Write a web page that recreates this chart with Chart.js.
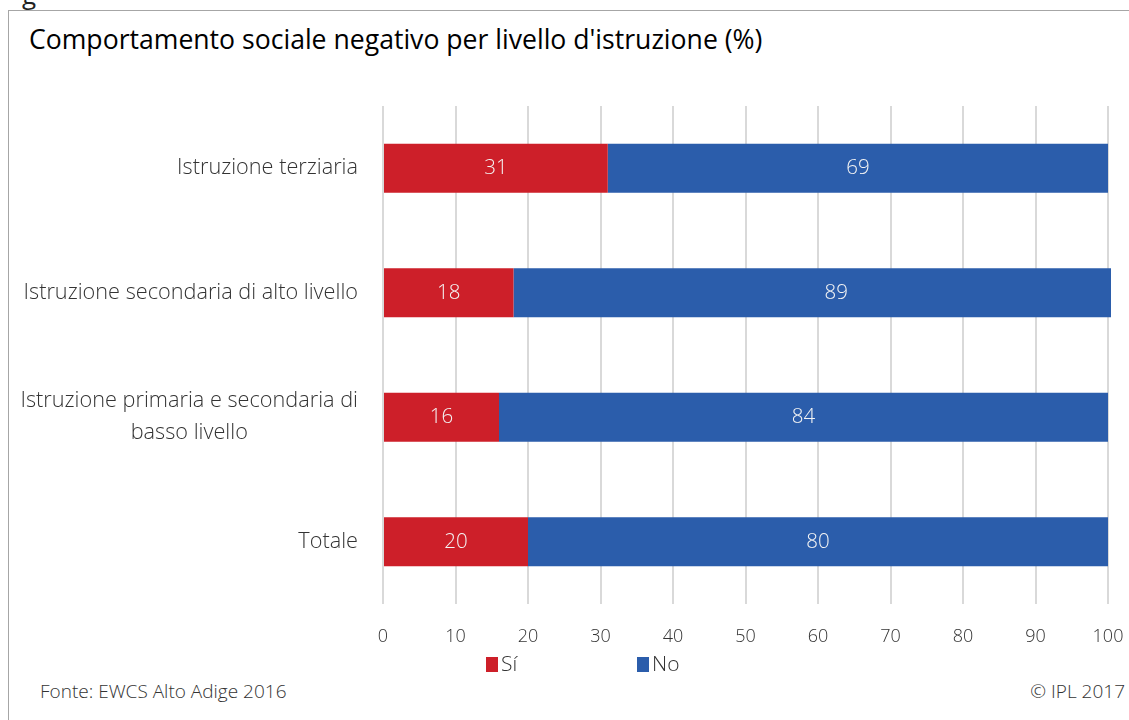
<!DOCTYPE html>
<html>
<head>
<meta charset="utf-8">
<script src="https://cdn.jsdelivr.net/npm/chart.js@4"></script>
<style>
  body { margin: 0; background: #fff; font-family: 'Open Sans', sans-serif; }
  #wrap { position: relative; width: 1129px; height: 720px; overflow: hidden; }
  #frame { position: absolute; left: 8px; top: 10px; width: 1200px; height: 800px;
           border-left: 1px solid #a6a6a6; border-top: 1px solid #a6a6a6; }
  #cut { position: absolute; left: 22px; top: -24px; font-size: 26px; color: #222; }
  #title { position: absolute; left: 29px; top: 21px; font-size: 26.6px; color: #000; white-space: nowrap; }
  canvas { position: absolute; left: 0; top: 0; }
  #legend { position: absolute; top: 649px; left: 0; font-size: 21px; font-weight: 300; color: #333; }
  #legend span.item { position: absolute; white-space: nowrap; }
  #legend i { display: inline-block; width: 12px; height: 15px; margin-right: 3px; vertical-align: -1px; }
  .foot { position: absolute; top: 678px; font-size: 19px; font-weight: 300; color: #333; white-space: nowrap; }
</style>
</head>
<body>
<div id="wrap">
  <div id="cut">g</div>
  <div id="frame"></div>
  <div id="title">Comportamento sociale negativo per livello d'istruzione (%)</div>
  <canvas id="chart" width="1129" height="660"></canvas>
  <div id="legend"></div>
  <div class="foot" style="left:40px">Fonte: EWCS Alto Adige 2016</div>
  <div class="foot" style="right:4px">© IPL 2017</div>
</div>
<script>
const categories = [
  ['Istruzione terziaria'],
  ['Istruzione secondaria di alto livello'],
  ['Istruzione primaria e secondaria di', 'basso livello'],
  ['Totale']
];
const siValues = [31, 18, 16, 20];
const noValues = [69, 89, 84, 80];
const xTicks = [0, 10, 20, 30, 40, 50, 60, 70, 80, 90, 100];
const seriesNames = ['Sí', 'No'];
const seriesColors = ['#cd1f29', '#2b5dab'];

// value labels centred on each (unclipped) bar segment
const valueLabels = {
  id: 'valueLabels',
  afterDatasetsDraw(chart) {
    const ctx = chart.ctx;
    ctx.save();
    ctx.fillStyle = '#f4f4f4';
    ctx.font = '300 20.5px "Open Sans"';
    ctx.textAlign = 'center';
    ctx.textBaseline = 'middle';
    chart.data.datasets.forEach((ds, i) => {
      chart.getDatasetMeta(i).data.forEach((el, j) => {
        const p = el.getCenterPoint();
        ctx.fillText(String(ds.data[j]), p.x, p.y);
      });
    });
    ctx.restore();
  }
};

// category labels: block right-aligned, lines centred inside the block
const catLabels = {
  id: 'catLabels',
  afterDraw(chart) {
    const ctx = chart.ctx;
    const y = chart.scales.y;
    ctx.save();
    ctx.fillStyle = '#333';
    ctx.font = '300 21.7px "Open Sans"';
    ctx.textAlign = 'center';
    ctx.textBaseline = 'middle';
    const right = chart.chartArea.left - 25;
    const lh = 32;
    categories.forEach((lines, i) => {
      const w = Math.max(...lines.map(l => ctx.measureText(l).width));
      const cx = right - w / 2;
      const cy = y.getPixelForTick(i);
      lines.forEach((l, k) => {
        ctx.fillText(l, cx, cy + (k - (lines.length - 1) / 2) * lh);
      });
    });
    ctx.restore();
  }
};

new Chart(document.getElementById('chart'), {
  type: 'bar',
  data: {
    labels: categories,
    datasets: [
      { label: seriesNames[0], data: siValues, backgroundColor: seriesColors[0] },
      { label: seriesNames[1], data: noValues, backgroundColor: seriesColors[1] }
    ]
  },
  options: {
    indexAxis: 'y',
    responsive: false,
    animation: false,
    categoryPercentage: 1,
    barPercentage: 0.394,
    datasets: { bar: { clip: { left: 0, top: 0, bottom: 0, right: 3 } } },
    layout: { padding: { top: 106, right: 21, left: 0, bottom: 0 } },
    plugins: { legend: { display: false }, tooltip: { enabled: false } },
    scales: {
      x: {
        stacked: true,
        min: 0, max: 100,
        afterBuildTicks(scale) { scale.ticks = xTicks.map(v => ({ value: v })); },
        afterFit(scale) { scale.height = 56; scale.paddingLeft = 0; scale.paddingRight = 0; },
        grid: { color: '#d9d9d9', lineWidth: 2, drawTicks: false },
        border: { display: false },
        ticks: { padding: 22, color: '#333', font: { family: 'Open Sans', weight: '300', size: 18 } }
      },
      y: {
        stacked: true,
        afterFit(scale) { scale.width = 383; },
        grid: { display: false },
        border: { display: false },
        ticks: { display: false }
      }
    }
  },
  plugins: [valueLabels, catLabels]
});

const legend = document.getElementById('legend');
const legendLeft = [486, 637];
seriesNames.forEach((n, i) => {
  const s = document.createElement('span');
  s.className = 'item';
  s.style.left = legendLeft[i] + 'px';
  s.innerHTML = `<i style="background:${seriesColors[i]}"></i>${n}`;
  legend.appendChild(s);
});
</script>
</body>
</html>
